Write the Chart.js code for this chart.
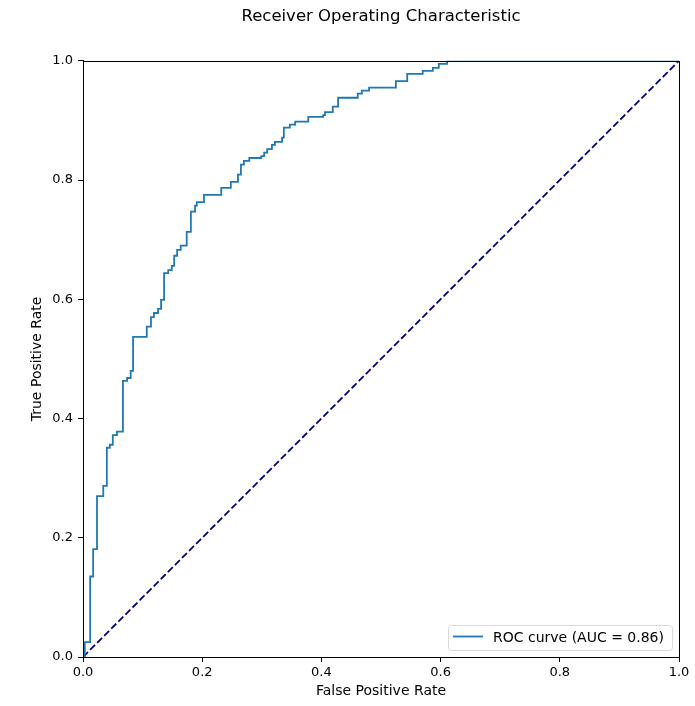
<!DOCTYPE html>
<html>
<head>
<meta charset="utf-8">
<script src="https://cdn.jsdelivr.net/npm/chart.js@4.4.1/dist/chart.umd.min.js"></script>
<style>
  body { margin: 0; background: #fff; }
  #wrap { position: absolute; left: 0; top: 0; width: 695px; height: 706px; }
</style>
</head>
<body>
<div id="wrap"><canvas id="roc"></canvas></div>
<script>
// ROC curve points (top of each vertical step)
const fpr = [0, 0.003, 0.012, 0.017, 0.0235, 0.034, 0.040, 0.045, 0.050, 0.057,
    0.067, 0.074, 0.080, 0.084, 0.107, 0.114, 0.119, 0.126, 0.131, 0.136,
    0.143, 0.149, 0.153, 0.158, 0.164, 0.174, 0.181, 0.188, 0.191, 0.203,
    0.232, 0.248, 0.260, 0.265, 0.270, 0.279, 0.299, 0.304, 0.309, 0.317,
    0.322, 0.334, 0.337, 0.347, 0.356, 0.378, 0.403, 0.406, 0.419, 0.428,
    0.461, 0.468, 0.480, 0.525, 0.544, 0.570, 0.587, 0.597, 0.611, 1.0];
const tpr = [0, 0.025, 0.135, 0.181, 0.270, 0.287, 0.351, 0.356, 0.372, 0.378,
    0.463, 0.468, 0.480, 0.537, 0.554, 0.570, 0.577, 0.584, 0.599, 0.644,
    0.649, 0.656, 0.673, 0.683, 0.690, 0.713, 0.747, 0.757, 0.763, 0.775,
    0.787, 0.797, 0.809, 0.826, 0.832, 0.837, 0.840, 0.846, 0.852, 0.859,
    0.864, 0.871, 0.888, 0.893, 0.898, 0.906, 0.909, 0.914, 0.923, 0.938,
    0.945, 0.950, 0.955, 0.966, 0.978, 0.983, 0.988, 0.995, 1.0, 1.0];
const chanceX = [0, 1];
const chanceY = [0, 1];
const aucLabel = 'ROC curve (AUC = 0.86)';
const tickValues = [0, 0.2, 0.4, 0.6, 0.8, 1.0];

const rocPoints = fpr.map((x, i) => ({x: x, y: tpr[i]}));
const chancePoints = chanceX.map((x, i) => ({x: x, y: chanceY[i]}));

const FONT = 'DejaVu Sans';

// frame round the plot + legend box in the lower right
const framePlugin = {
    id: 'frame',
    afterDraw(chart) {
        const ctx = chart.ctx;
        const a = chart.chartArea;
        ctx.save();
        ctx.strokeStyle = '#000';
        ctx.lineWidth = 1;
        ctx.strokeRect(Math.round(a.left) + 0.5, Math.round(a.top) + 0.5,
            Math.round(a.right - a.left), Math.round(a.bottom - a.top));

        // legend
        const w = 224, h = 25;
        const lx = a.right - w - 7, ly = a.bottom - h - 7;
        ctx.beginPath();
        ctx.roundRect(lx + 0.5, ly + 0.5, w, h, 3);
        ctx.fillStyle = 'rgba(255,255,255,0.8)';
        ctx.fill();
        ctx.strokeStyle = '#d9d9d9';
        ctx.stroke();
        ctx.beginPath();
        ctx.moveTo(lx + 5, ly + 11.5);
        ctx.lineTo(lx + 35, ly + 11.5);
        ctx.strokeStyle = '#1f77b4';
        ctx.lineWidth = 1.8;
        ctx.stroke();
        ctx.fillStyle = '#000';
        ctx.font = '14px "' + FONT + '"';
        ctx.textBaseline = 'middle';
        ctx.fillText(chart.data.datasets[0].label, lx + 45, ly + h / 2 + 1);
        ctx.restore();
    }
};

const config = {
    type: 'line',
    data: {
        datasets: [{
            label: aucLabel,
            data: rocPoints,
            borderColor: '#1f77b4',
            borderWidth: 1.8,
            pointRadius: 0,
            stepped: 'before',
            fill: false,
        }, {
            label: 'chance',
            data: chancePoints,
            borderColor: '#000080',
            borderWidth: 1.8,
            borderDash: [7, 3],
            pointRadius: 0,
            fill: false,
        }]
    },
    options: {
        responsive: true,
        maintainAspectRatio: false,
        animation: false,
        layout: {padding: {left: 0, right: 16, top: 0, bottom: 0}},
        plugins: {
            legend: {display: false},
            tooltip: {enabled: false},
            title: {
                display: true,
                fullSize: false,
                text: 'Receiver Operating Characteristic',
                color: '#000',
                font: {family: FONT, size: 16.5, weight: 'normal'},
                padding: {top: 7, bottom: 34},
            }
        },
        scales: {
            x: {
                type: 'linear',
                min: 0,
                max: 1,
                afterFit(scale) { scale.height = 49; },
                afterBuildTicks(scale) { scale.ticks = tickValues.map(v => ({value: v})); },
                grid: {drawOnChartArea: false, tickLength: 5, color: '#000'},
                border: {color: '#000'},
                ticks: {
                    color: '#000',
                    font: {family: FONT, size: 13},
                    padding: 3,
                    maxRotation: 0,
                    callback: v => v.toFixed(1),
                },
                title: {
                    display: true,
                    text: 'False Positive Rate',
                    color: '#000',
                    font: {family: FONT, size: 14},
                    padding: {top: 4, bottom: 6},
                }
            },
            y: {
                type: 'linear',
                min: 0,
                max: 1,
                afterFit(scale) { scale.width = 83; },
                afterBuildTicks(scale) { scale.ticks = tickValues.map(v => ({value: v})); },
                grid: {drawOnChartArea: false, tickLength: 5, color: '#000'},
                border: {color: '#000'},
                ticks: {
                    color: '#000',
                    font: {family: FONT, size: 13},
                    padding: 5,
                    callback: v => v.toFixed(1),
                },
                title: {
                    display: true,
                    text: 'True Positive Rate',
                    color: '#000',
                    font: {family: FONT, size: 14},
                    padding: {top: 29, bottom: 4},
                }
            }
        }
    },
    plugins: [framePlugin]
};

const myChart = new Chart(document.getElementById('roc'), config);
</script>
</body>
</html>
